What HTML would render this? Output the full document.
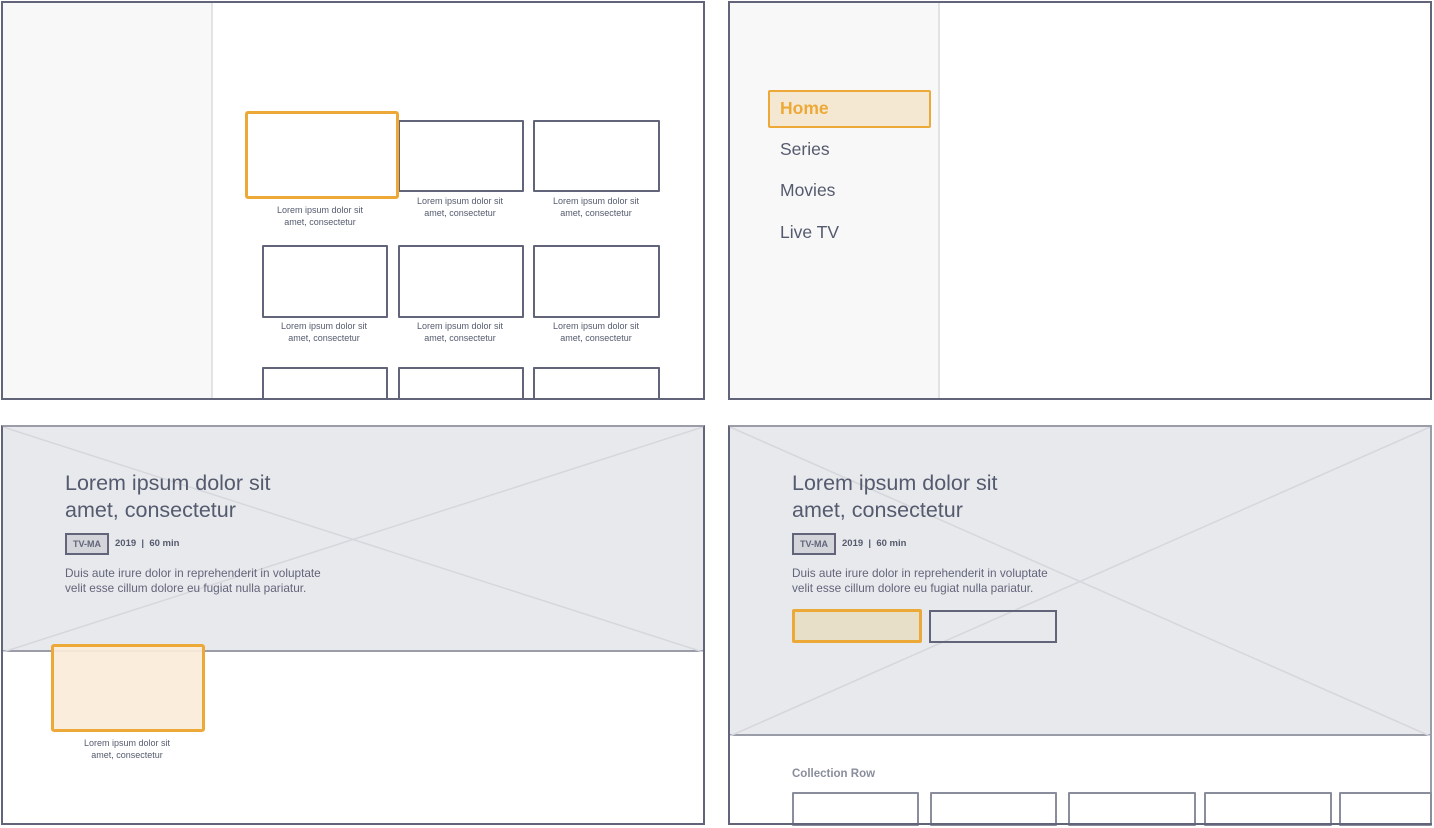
<!DOCTYPE html>
<html><head><meta charset="utf-8"><style>
body{margin:0;width:1434px;height:828px;background:#fff;position:relative;overflow:hidden;font-family:"Liberation Sans",sans-serif;color:#555b6e}
.a{position:absolute;box-sizing:border-box}
.card{position:absolute;box-sizing:border-box;border:2px solid #62657a;border-radius:1px;background:#fff}
.cap{position:absolute;width:160px;text-align:center;font-size:9px;line-height:12px;color:#555b6e}
.nav{position:absolute;left:780px;font-size:17.5px;color:#555b6e}
.ttl{position:absolute;font-size:21.5px;line-height:27px;color:#555b6e}
.desc{position:absolute;font-size:11.8px;line-height:15px;color:#62657a}
</style></head><body>
<!-- TL -->
<div class="a" style="left:1px;top:1px;width:704px;height:399px;border:2px solid #62657a"></div>
<div class="a" style="left:3px;top:3px;width:210px;height:395px;background:#f8f8f8;border-right:2px solid #e3e3e6"></div>
<div class="card" style="left:398px;top:120px;width:126px;height:72px"></div>
<div class="card" style="left:533px;top:120px;width:127px;height:72px"></div>
<div class="a" style="left:245px;top:111px;width:154px;height:88px;border:3.5px solid #eda937;border-radius:3px;background:#fff"></div>
<div class="cap" style="left:240px;top:204px">Lorem ipsum dolor sit<br>amet, consectetur</div>
<div class="cap" style="left:380px;top:195px">Lorem ipsum dolor sit<br>amet, consectetur</div>
<div class="cap" style="left:516px;top:195px">Lorem ipsum dolor sit<br>amet, consectetur</div>
<div class="card" style="left:262px;top:245px;width:126px;height:73px"></div>
<div class="card" style="left:398px;top:245px;width:126px;height:73px"></div>
<div class="card" style="left:533px;top:245px;width:127px;height:73px"></div>
<div class="cap" style="left:244px;top:320px">Lorem ipsum dolor sit<br>amet, consectetur</div>
<div class="cap" style="left:380px;top:320px">Lorem ipsum dolor sit<br>amet, consectetur</div>
<div class="cap" style="left:516px;top:320px">Lorem ipsum dolor sit<br>amet, consectetur</div>
<div class="card" style="left:262px;top:367px;width:126px;height:33px;border-bottom:none"></div>
<div class="card" style="left:398px;top:367px;width:126px;height:33px;border-bottom:none"></div>
<div class="card" style="left:533px;top:367px;width:127px;height:33px;border-bottom:none"></div>
<div class="a" style="left:1px;top:398px;width:704px;height:2px;background:#62657a"></div>
<!-- TR -->
<div class="a" style="left:728px;top:1px;width:704px;height:399px;border:2px solid #62657a"></div>
<div class="a" style="left:730px;top:3px;width:210px;height:395px;background:#f8f8f8;border-right:2px solid #e3e3e6"></div>
<div class="a" style="left:768px;top:90px;width:163px;height:38px;background:#f5e8d3;border:2px solid #eda937;border-radius:2px"></div>
<div class="nav" style="top:98px;color:#eda937;font-weight:bold">Home</div>
<div class="nav" style="top:139px">Series</div>
<div class="nav" style="top:180px">Movies</div>
<div class="nav" style="top:222px">Live TV</div>
<!-- BL -->
<div class="a" style="left:1px;top:425px;width:704px;height:400px;border:2px solid #62657a;border-top-color:#9a9ca8"></div>
<div class="a" style="left:3px;top:427px;width:700px;height:225px;background:#e8e9ed;border-bottom:2px solid #9a9ca8"></div>
<svg class="a" style="left:3px;top:427px" width="700" height="225"><line x1="0" y1="0" x2="700" y2="225" stroke="#d6d7dc" stroke-width="1.5"/><line x1="0" y1="225" x2="700" y2="0" stroke="#d6d7dc" stroke-width="1.5"/></svg>
<div class="ttl" style="left:65px;top:470px">Lorem ipsum dolor sit<br>amet, consectetur</div>
<div class="a" style="left:65px;top:533px;width:44px;height:22px;border:2px solid #62657a;background:#d4d5db;font-size:9px;font-weight:bold;text-align:center;line-height:18px;color:#62657a">TV-MA</div>
<div class="a" style="left:115px;top:538px;font-size:9.5px;font-weight:bold;color:#555b6e">2019 &nbsp;|&nbsp; 60 min</div>
<div class="desc" style="left:65px;top:566px">Duis aute irure dolor in reprehenderit in voluptate<br>velit esse cillum dolore eu fugiat nulla pariatur.</div>
<div class="a" style="left:51px;top:644px;width:154px;height:88px;border:3.5px solid #eda937;border-radius:3px;background:rgba(251,236,217,0.93)"></div>
<div class="cap" style="left:47px;top:737px">Lorem ipsum dolor sit<br>amet, consectetur</div>
<!-- BR -->
<div class="a" style="left:728px;top:425px;width:704px;height:400px;border:2px solid #62657a;border-top-color:#9a9ca8;border-right-color:#9a9ca8"></div>
<div class="a" style="left:730px;top:427px;width:700px;height:309px;background:#e8e9ed;border-bottom:2px solid #9a9ca8"></div>
<svg class="a" style="left:730px;top:427px" width="700" height="309"><line x1="0" y1="0" x2="700" y2="309" stroke="#d6d7dc" stroke-width="1.5"/><line x1="0" y1="309" x2="700" y2="0" stroke="#d6d7dc" stroke-width="1.5"/></svg>
<div class="ttl" style="left:792px;top:470px">Lorem ipsum dolor sit<br>amet, consectetur</div>
<div class="a" style="left:792px;top:533px;width:44px;height:22px;border:2px solid #62657a;background:#d4d5db;font-size:9px;font-weight:bold;text-align:center;line-height:18px;color:#62657a">TV-MA</div>
<div class="a" style="left:842px;top:538px;font-size:9.5px;font-weight:bold;color:#555b6e">2019 &nbsp;|&nbsp; 60 min</div>
<div class="desc" style="left:792px;top:566px">Duis aute irure dolor in reprehenderit in voluptate<br>velit esse cillum dolore eu fugiat nulla pariatur.</div>
<div class="a" style="left:792px;top:609px;width:130px;height:34px;border:3px solid #eda937;border-radius:2px;background:#e8dfc9"></div>
<div class="a" style="left:929px;top:610px;width:128px;height:33px;border:2px solid #62657a;background:transparent"></div>
<div class="a" style="left:792px;top:768px;font-size:11.5px;font-weight:bold;color:#8a8d9c">Collection Row</div>
<div class="card" style="left:792px;top:792px;width:127px;height:34px;border-color:#8a8d9c"></div>
<div class="card" style="left:930px;top:792px;width:127px;height:34px;border-color:#8a8d9c"></div>
<div class="card" style="left:1068px;top:792px;width:128px;height:34px;border-color:#8a8d9c"></div>
<div class="card" style="left:1204px;top:792px;width:128px;height:34px;border-color:#8a8d9c"></div>
<div class="card" style="left:1339px;top:792px;width:93px;height:34px;border-color:#8a8d9c"></div>
<div class="a" style="left:728px;top:823px;width:704px;height:2px;background:#62657a"></div>
</body></html>
